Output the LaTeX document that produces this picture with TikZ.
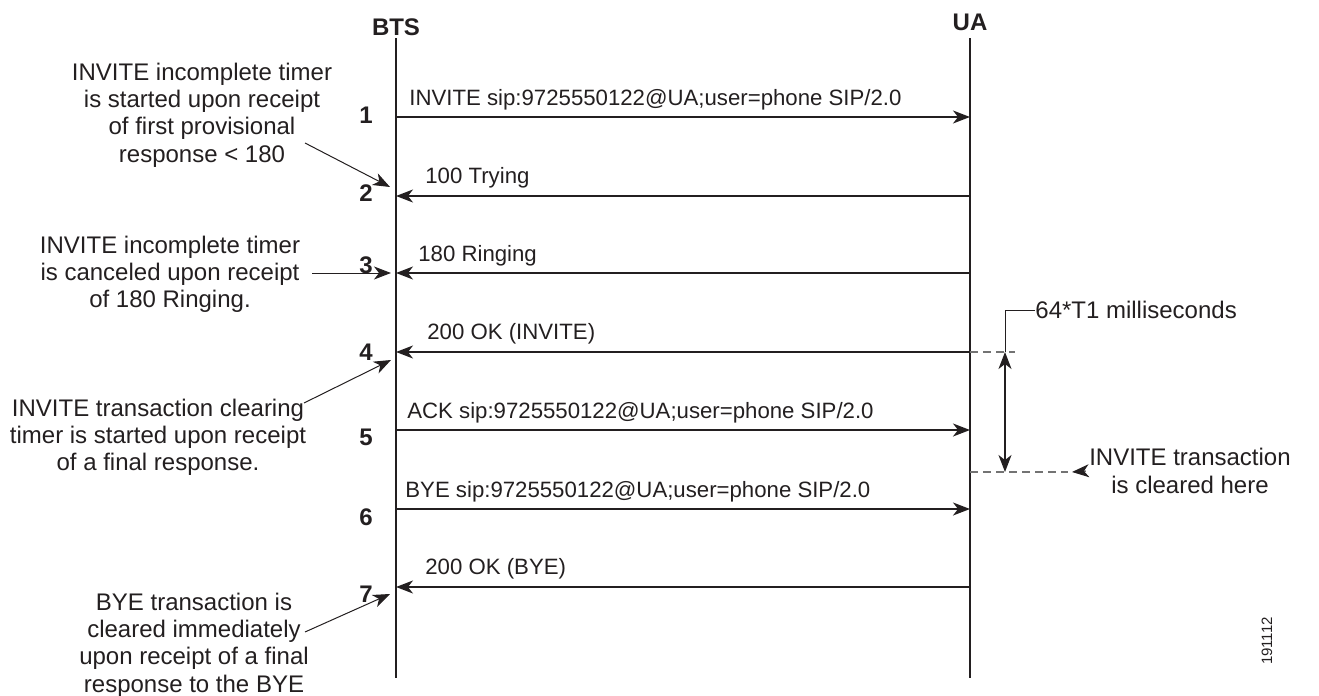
\documentclass[tikz,border=0pt]{standalone}
\usepackage{fontspec}
\setmainfont{Liberation Sans}
\usetikzlibrary{arrows.meta,positioning}
\definecolor{ink}{HTML}{231F20}

\begin{document}
\begin{tikzpicture}[x=0.5pt,y=-0.5pt,color=ink,
  life/.style={line width=1.4pt},
  msg/.style={line width=0.7pt,-{Stealth[length=8.5pt,width=6.5pt,inset=2.5pt]}},
  note/.style={line width=0.5pt,-{Stealth[length=8.5pt,width=6.5pt,inset=2.5pt]}},
  guide/.style={draw=black!55,line width=0.6pt,dash pattern=on 4pt off 2.5pt},
  head/.style={font=\fontsize{12}{14}\selectfont\bfseries,inner sep=0pt},
  num/.style={font=\fontsize{12}{14}\selectfont\bfseries,inner sep=0pt},
  lbl/.style={font=\fontsize{11.1}{13.5}\selectfont,inner sep=0pt,anchor=west},
  txt/.style={font=\fontsize{12}{13.6}\selectfont,align=center,inner sep=0pt}]
\useasboundingbox (0,0) rectangle (1319,696);

% lifelines
\node[head] (bts) at (396,27) {BTS};
\node[head] (ua) at (970,22) {UA};
\coordinate (bts top) at (396,38);
\coordinate (bts end) at (396,678);
\coordinate (ua top) at (970,38);
\coordinate (ua end) at (970,678);
\draw[life] (bts top) -- (bts end);
\draw[life] (ua top) -- (ua end);

% message points
\foreach \i/\y in {1/117,2/196,3/273,4/352,5/430,6/509,7/587}{
  \coordinate (b\i) at (396,\y);
  \coordinate (u\i) at (970,\y);
}

% messages
\draw[msg] (b1) -- (u1);
\node[lbl] (m1) at (409,100) {INVITE sip:9725550122@UA;user=phone SIP/2.0};
\draw[msg] (u2) -- (b2);
\node[lbl] (m2) at (425,178) {100 Trying};
\draw[msg] (u3) -- (b3);
\node[lbl] (m3) at (418,256) {180 Ringing};
\draw[msg] (u4) -- (b4);
\node[lbl] (m4) at (427,334) {200 OK (INVITE)};
\draw[msg] (b5) -- (u5);
\node[lbl] (m5) at (407,413) {ACK sip:9725550122@UA;user=phone SIP/2.0};
\draw[msg] (b6) -- (u6);
\node[lbl] (m6) at (405,492) {BYE sip:9725550122@UA;user=phone SIP/2.0};
\draw[msg] (u7) -- (b7);
\node[lbl] (m7) at (425,569) {200 OK (BYE)};

% step numbers
\node[num] (n1) at (366,115) {1};
\node[num] (n2) at (366,193) {2};
\node[num] (n3) at (366,265) {3};
\node[num] (n4) at (366,352) {4};
\node[num] (n5) at (366,437) {5};
\node[num] (n6) at (366,517) {6};
\node[num] (n7) at (366,594) {7};

% notes on the left
\node[txt] (a1) at (202,115) {INVITE incomplete timer\\is started upon receipt\\of first provisional\\response < 180};
\coordinate (a1 from) at (305,143);
\coordinate (a1 to) at (390,187);
\draw[note] (a1 from) -- (a1 to);

\node[txt] (a2) at (170,274) {INVITE incomplete timer\\is canceled upon receipt\\of 180 Ringing.};
\coordinate (a2 from) at (312,273);
\coordinate (a2 to) at (391,273);
\draw[note] (a2 from) -- (a2 to);

\node[txt] (a3) at (158,437) {INVITE transaction clearing\\timer is started upon receipt\\of a final response.};
\coordinate (a3 from) at (304,403);
\coordinate (a3 to) at (391,360);
\draw[note] (a3 from) -- (a3 to);

\node[txt] (a4) at (194,645) {BYE transaction is\\cleared immediately\\upon receipt of a final\\response to the BYE};
\coordinate (a4 from) at (305,632);
\coordinate (a4 to) at (390,594);
\draw[note] (a4 from) -- (a4 to);

% timer on the right
\coordinate (g1) at (1015,352);
\coordinate (g2) at (970,472);
\coordinate (g3) at (1068,472);
\draw[guide] (u4) -- (g1);
\draw[guide] (g2) -- (g3);
\coordinate (tm top) at (1005,352);
\coordinate (tm bot) at (1005,472);
\draw[line width=0.6pt,{Stealth[length=8.5pt,width=6.5pt,inset=2.5pt]}-{Stealth[length=8.5pt,width=6.5pt,inset=2.5pt]}] (tm top) -- (tm bot);
\node[lbl,font=\fontsize{12}{14}\selectfont] (tm) at (1035,310) {64*T1 milliseconds};
\draw[line width=0.5pt] (tm.west) -| (tm top);
\node[txt] (clr) at (1190,471) {INVITE transaction\\is cleared here};
\coordinate (clr to) at (1072,472);
\draw[note] (clr.west) ++(-3,0) -- (clr to);

\node[rotate=90,font=\fontsize{7.5}{9}\selectfont,inner sep=0pt] (fig) at (1267,641) {191112};
\end{tikzpicture}
\end{document}
